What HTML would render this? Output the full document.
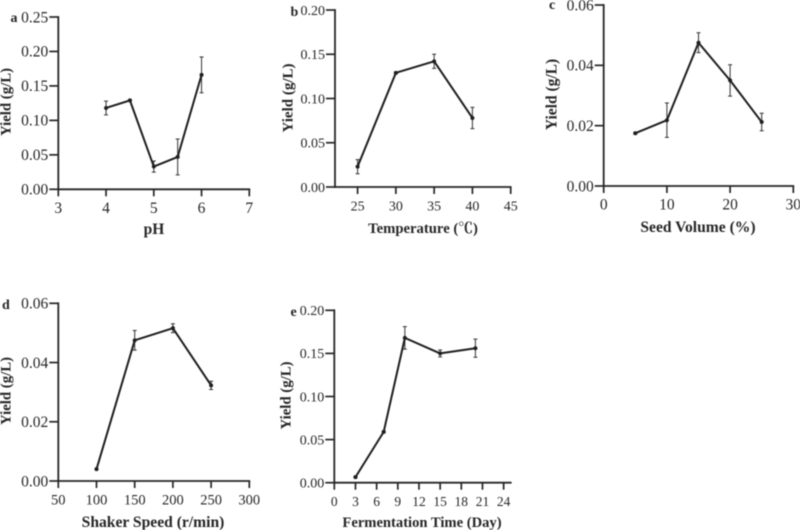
<!DOCTYPE html>
<html>
<head>
<meta charset="utf-8">
<style>
html,body{margin:0;padding:0;background:#fff;}
#fig{display:block;width:800px;height:530px;font-family:"Liberation Serif","Noto Serif CJK SC",serif;filter:blur(0.45px);}
text{fill:#262626;}
</style>
</head>
<body>
<svg id="fig" xmlns="http://www.w3.org/2000/svg" width="800" height="530" viewBox="0 0 800 530"></svg>
<script>
// Panel a
const phX = [4, 4.5, 5, 5.5, 6];
const phY = [0.118, 0.129, 0.033, 0.047, 0.166];
const phErr = [0.010, 0.001, 0.008, 0.026, 0.026];
const phXTicks = ["3", "4", "5", "6", "7"];
const phYTicks = ["0.00", "0.05", "0.10", "0.15", "0.20", "0.25"];
// Panel b
const tempX = [25, 30, 35, 40];
const tempY = [0.023, 0.129, 0.142, 0.078];
const tempErr = [0.008, 0.001, 0.008, 0.012];
const tempXTicks = ["25", "30", "35", "40", "45"];
const tempYTicks = ["0.00", "0.05", "0.10", "0.15", "0.20"];
// Panel c
const seedX = [5, 10, 15, 20, 25];
const seedY = [0.0175, 0.0218, 0.0475, 0.035, 0.0212];
const seedErr = [0.0003, 0.0057, 0.0033, 0.0052, 0.0029];
const seedXTicks = ["0", "10", "20", "30"];
const seedYTicks = ["0.00", "0.02", "0.04", "0.06"];
// Panel d
const speedX = [100, 150, 200, 250];
const speedY = [0.004, 0.0475, 0.0516, 0.0323];
const speedErr = [0.0002, 0.0033, 0.0015, 0.0014];
const speedXTicks = ["50", "100", "150", "200", "250", "300"];
const speedYTicks = ["0.00", "0.02", "0.04", "0.06"];
// Panel e
const timeX = [3, 7, 10, 15, 20];
const timeY = [0.0065, 0.059, 0.168, 0.150, 0.156];
const timeErr = [0.001, 0.001, 0.013, 0.004, 0.0105];
const timeXTicks = ["0", "3", "6", "9", "12", "15", "18", "21", "24"];
const timeYTicks = ["0.00", "0.05", "0.10", "0.15", "0.20"];

const INK = "#262626";
const svg = document.getElementById("fig");

function el(tag, props, parent, content) {
  const node = document.createElementNS("http://www.w3.org/2000/svg", tag);
  for (const k in props) node.setAttribute(k, props[k]);
  if (content !== undefined) node.textContent = content;
  parent.appendChild(node);
  return node;
}

function drawPanel(p) {
  const g = el("g", {}, svg);
  
  

  const sx = v => p.left + (v - p.xMin) / (p.xMax - p.xMin) * (p.right - p.left);
  const sy = v => p.bottom - (v - p.yMin) / (p.yMax - p.yMin) * (p.bottom - p.top);

  const xAxis = el("line", {x1: p.left - 1, x2: p.right + 0.9, y1: p.bottom, y2: p.bottom, stroke: INK, "stroke-width": 1.8}, g);
  
  

  const yAxis = el("line", {x1: p.left, x2: p.left, y1: p.top - 0.9, y2: p.bottom + 0.9, stroke: INK, "stroke-width": 1.8}, g);
  
  

  p.xTicks.forEach(label => {
    const x = sx(parseFloat(label));
    const tick = el("line", {x1: x, x2: x, y1: p.bottom, y2: p.bottom + 7, stroke: INK, "stroke-width": 1.7}, g);
    
    
    const text = el("text", {x: x, y: p.bottom + 23.5, "text-anchor": "middle", "font-size": p.xTickSize}, g, label);
    
    
  });

  p.yTicks.forEach(label => {
    const y = sy(parseFloat(label));
    const tick = el("line", {x1: p.left - 9, x2: p.left, y1: y, y2: y, stroke: INK, "stroke-width": 1.7}, g);
    
    
    const text = el("text", {x: p.left - 10, y: y + p.yTickSize * 0.34, "text-anchor": "end", "font-size": p.yTickSize}, g, label);
    
    
  });

  p.xs.forEach((v, i) => {
    const x = sx(v);
    const hi = sy(p.ys[i] + p.errs[i]);
    const lo = sy(p.ys[i] - p.errs[i]);
    const bar = el("path", {d: "M" + (x - 2) + " " + hi + "H" + (x + 2) + "M" + x + " " + hi + "V" + lo + "M" + (x - 2) + " " + lo + "H" + (x + 2), fill: "none", stroke: "#333", "stroke-width": 1}, g);
    
    
  });

  const line = el("polyline", {points: p.xs.map((v, i) => sx(v) + "," + sy(p.ys[i])).join(" "), fill: "none", stroke: "#1e1e1e", "stroke-width": 2, "stroke-linejoin": "round"}, g);
  
  

  p.xs.forEach((v, i) => {
    const dot = el("circle", {cx: sx(v), cy: sy(p.ys[i]), r: 2, fill: "#1e1e1e"}, g);
    
    
  });

  const xTitle = el("text", {x: p.xTitleX, y: p.xTitleY, "text-anchor": "middle", "font-size": p.xTitleSize, "font-weight": "bold"}, g, p.xTitle);
  
  

  const yTitle = el("text", {x: 0, y: 0, transform: "translate(" + p.yTitleX + " " + p.yTitleY + ") rotate(-90)", "text-anchor": "middle", "font-size": p.yTitleSize, "font-weight": "bold"}, g, "Yield (g/L)");
  
  

  const tag = el("text", {x: p.tagX, y: p.tagY, "font-size": 14, "font-weight": "bold"}, g, p.id);
  
  
}

drawPanel({id: "a", xs: phX, ys: phY, errs: phErr, xTicks: phXTicks, yTicks: phYTicks,
  xMin: 3, xMax: 7, yMin: 0, yMax: 0.25, left: 58.3, right: 249.3, top: 17, bottom: 189.3,
  xTickSize: 15.5, yTickSize: 15.5, yTitleSize: 14.8,
  xTitle: "pH", xTitleSize: 15.5, xTitleX: 154, xTitleY: 234, yTitleX: 10.5, yTitleY: 102, tagX: 10.5, tagY: 22});
drawPanel({id: "b", xs: tempX, ys: tempY, errs: tempErr, xTicks: tempXTicks, yTicks: tempYTicks,
  xMin: 22.05, xMax: 45, yMin: 0, yMax: 0.2, left: 335, right: 510.7, top: 10, bottom: 187,
  xTickSize: 14, yTickSize: 14, yTitleSize: 15,
  xTitle: "Temperature (℃)", xTitleSize: 14.7, xTitleX: 423, xTitleY: 233, yTitleX: 292.5, yTitleY: 98, tagX: 290.5, tagY: 16});
drawPanel({id: "c", xs: seedX, ys: seedY, errs: seedErr, xTicks: seedXTicks, yTicks: seedYTicks,
  xMin: 0, xMax: 30, yMin: 0, yMax: 0.06, left: 603.7, right: 793.3, top: 5, bottom: 186,
  xTickSize: 15.5, yTickSize: 15.5, yTitleSize: 15.5,
  xTitle: "Seed Volume (%)", xTitleSize: 15.6, xTitleX: 698, xTitleY: 232, yTitleX: 556.5, yTitleY: 94.5, tagX: 549, tagY: 9});
drawPanel({id: "d", xs: speedX, ys: speedY, errs: speedErr, xTicks: speedXTicks, yTicks: speedYTicks,
  xMin: 50, xMax: 300, yMin: 0, yMax: 0.06, left: 58.3, right: 249.3, top: 303.3, bottom: 481,
  xTickSize: 14.5, yTickSize: 15.5, yTitleSize: 14.8,
  xTitle: "Shaker Speed (r/min)", xTitleSize: 15.6, xTitleX: 153, xTitleY: 527, yTitleX: 10.5, yTitleY: 391, tagX: 2, tagY: 309});
drawPanel({id: "e", xs: timeX, ys: timeY, errs: timeErr, xTicks: timeXTicks, yTicks: timeYTicks,
  xMin: 0, xMax: 25, yMin: 0, yMax: 0.2, left: 334.3, right: 510.7, top: 310.3, bottom: 482.7,
  xTickSize: 13.5, yTickSize: 14, yTitleSize: 14.8,
  xTitle: "Fermentation Time (Day)", xTitleSize: 14.6, xTitleX: 422, xTitleY: 527, yTitleX: 290.5, yTitleY: 395.5, tagX: 290.5, tagY: 316});
</script>
</body>
</html>
